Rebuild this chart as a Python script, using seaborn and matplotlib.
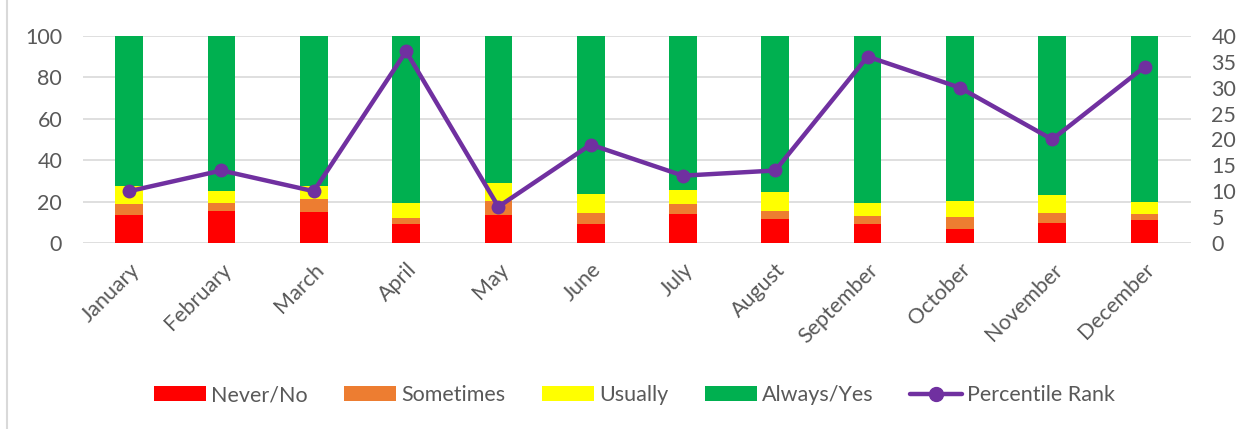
import numpy as np
import pandas as pd
import matplotlib.pyplot as plt
import seaborn as sns
from matplotlib.lines import Line2D
from matplotlib.patches import Patch

months = ["January", "February", "March", "April", "May", "June", "July",
          "August", "September", "October", "November", "December"]
never = [13.5, 15.5, 15.0, 9.2, 13.7, 9.4, 14.0, 11.6, 9.0, 6.8, 9.7, 11.1]
sometimes = [5.2, 3.8, 6.3, 2.9, 6.4, 5.1, 4.7, 3.9, 4.2, 5.8, 4.8, 3.1]
usually = [8.8, 5.8, 6.2, 7.2, 8.9, 9.0, 6.8, 9.1, 6.1, 7.7, 8.7, 5.8]
always = [72.5, 74.9, 72.5, 80.7, 71.0, 76.5, 74.5, 75.4, 80.7, 79.7, 76.8, 80.0]
percentile_rank = [10, 14, 10, 37, 7, 19, 13, 14, 36, 30, 20, 34]

series = ["Never/No", "Sometimes", "Usually", "Always/Yes"]
colors = ["#FF0000", "#ED7D31", "#FFFF00", "#00B050"]
purple = "#7030A0"
text_col = "#595959"
fs = 15.5


def main():
    sns.set_style("white")
    plt.rcParams["font.family"] = ["Lato", "DejaVu Sans"]

    df = pd.DataFrame({"month": months, "Never/No": never, "Sometimes": sometimes,
                       "Usually": usually, "Always/Yes": always})
    # cumulative tops for stacking
    cum = df[series].cumsum(axis=1)
    cum["month"] = df["month"]

    fig = plt.figure(figsize=(12.52, 4.29), dpi=100)
    ax = fig.add_axes([0.0663, 0.4336, 0.8847, 0.4828])

    # draw from the tallest stack down so each lower segment sits on top
    for name, col in reversed(list(zip(series, colors))):
        sns.barplot(data=cum, x="month", y=name, color=col, width=0.3,
                    linewidth=0, saturation=1, ax=ax, zorder=2)

    ax.set_ylim(0, 100)
    ax.set_xlim(-0.5, 11.5)
    ax.set_yticks(range(0, 101, 20))
    ax.yaxis.grid(True, color="#D9D9D9", linewidth=1.2, zorder=0)
    ax.set_axisbelow(True)
    ax.set_xlabel("")
    ax.set_ylabel("")
    ax.tick_params(axis="y", length=0, pad=15, labelsize=fs, labelcolor=text_col)
    ax.tick_params(axis="x", length=0, pad=12, labelsize=fs, labelcolor=text_col)
    plt.setp(ax.get_xticklabels(), rotation=45, ha="right", rotation_mode="anchor")
    sns.despine(ax=ax, left=True, bottom=True)

    ax2 = ax.twinx()
    sns.lineplot(x=np.arange(len(months)), y=percentile_rank, color=purple,
                 linewidth=3.2, marker="o", markersize=10, markeredgewidth=0, ax=ax2)
    ax2.set_ylim(0, 40)
    ax2.set_yticks(range(0, 41, 5))
    ax2.tick_params(axis="y", length=0, pad=15, labelsize=fs, labelcolor=text_col)
    sns.despine(ax=ax2, left=True, bottom=True, right=True)

    handles = [Patch(facecolor=c, edgecolor="none") for c in colors]
    handles.append(Line2D([0], [0], color=purple, linewidth=3.2, marker="o", markersize=10))
    fig.legend(handles, series + ["Percentile Rank"], loc="center", bbox_to_anchor=(0.507, 0.079),
               ncol=5, frameon=False, fontsize=fs, labelcolor=text_col, handlelength=2.4,
               handleheight=0.65, handletextpad=0.25, columnspacing=1.7)

    fig.add_artist(Line2D([0.0056, 0.0056], [0, 1], color="#D9D9D9", linewidth=1.5))
    fig.savefig("out.png", dpi=100)


if __name__ == "__main__":
    main()
